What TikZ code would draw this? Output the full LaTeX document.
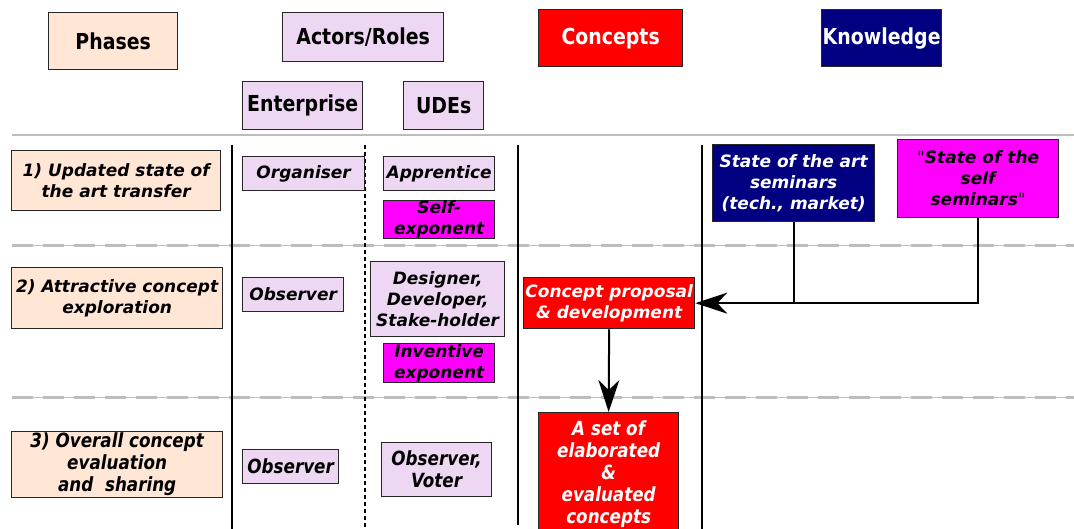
\documentclass[tikz,border=0pt]{standalone}
\usepackage{fontspec}
\setmainfont{DejaVu Sans}
\newfontfamily\condfont{DejaVu Sans}[FakeStretch=0.86]
\newfontfamily\quotefont{DejaVu Sans}[Ligatures=ResetAll]
\usepackage{xcolor}
\usetikzlibrary{arrows.meta}
\definecolor{peach}{HTML}{FFE6D5}
\definecolor{lilac}{HTML}{EDD7F2}
\definecolor{navyblue}{HTML}{000080}
\definecolor{pinkmag}{HTML}{FF00FF}
\definecolor{rulegray}{HTML}{BDBDBD}
\newcommand{\dq}{{\quotefont\upshape\mdseries"}}

\begin{document}
\begin{tikzpicture}[
  x=1pt, y=-1pt,
  box/.style={draw=black!85, line width=1.3pt, align=center, inner sep=0pt, anchor=north west,
              font=\fontsize{17}{21}\selectfont\bfseries\itshape},
  cbox/.style={box, font=\condfont\fontsize{19.5}{22}\selectfont\bfseries\itshape},
  head/.style={box, font=\condfont\fontsize{22}{26}\selectfont\bfseries},
  phase/.style={fill=peach},
  role/.style={fill=lilac},
  expo/.style={fill=pinkmag},
  concept/.style={fill=red, text=white},
  know/.style={fill=navyblue, text=white},
  lane/.style={line width=2pt, draw=black},
  sep/.style={line width=1pt, draw=rulegray},
  ar/.style={-{Stealth[length=32pt, width=21pt, inset=10pt]}, line width=2pt, draw=black}
]
  \useasboundingbox (0,0) rectangle (1074,529);

  \node[head, phase, minimum width=129pt, minimum height=57pt] (hphases) at (48,12) {Phases};
  \node[head, role, minimum width=161pt, minimum height=49pt] (hactors) at (282,12) {Actors/Roles};
  \node[head, concept, minimum width=144pt, minimum height=57pt] (hconcepts) at (538,9) {Concepts};
  \node[head, know, minimum width=120pt, minimum height=57pt] (hknow) at (821,9) {Knowledge};
  \node[head, role, minimum width=120pt, minimum height=48pt] (henter) at (242,81) {Enterprise};
  \node[head, role, minimum width=80pt, minimum height=48pt] (hudes) at (403,81) {UDEs};

  \draw[sep, line width=2.5pt] (12,135) -- (1074,135);
  \draw[sep] (12,246) -- (1074,246);
  \draw[sep, line width=3pt, dash pattern=on 21pt off 10pt] (12,246) -- (1074,246);
  \draw[sep] (12,397) -- (1074,397);
  \draw[sep, line width=3pt, dash pattern=on 21pt off 10pt] (12,397) -- (1074,397);

  \draw[lane] (232,145) -- (232,529);
  \draw[lane, line width=1.6pt, dash pattern=on 4pt off 3pt] (365,145) -- (365,529);
  \draw[lane] (518,145) -- (518,525);
  \draw[lane] (702,145) -- (702,529);

  \node[box, phase, minimum width=209pt, minimum height=60pt] (ph1) at (11,150)
        {1) Updated state of\\the art transfer};
  \node[box, role, minimum width=122pt, minimum height=34pt] (org) at (242,156) {Organiser};
  \node[box, role, minimum width=111pt, minimum height=34pt] (appr) at (383,156) {Apprentice};
  \node[box, expo, minimum width=111pt, minimum height=38pt] (selfexp) at (383,200)
        {Self-\\exponent};
  \node[box, know, minimum width=162pt, minimum height=77pt] (sota) at (712,144)
        {State of the art\\seminars\\(tech., market)};
  \node[box, expo, minimum width=161pt, minimum height=78pt] (sots) at (897,139)
        {\dq State of the\\self\\seminars\dq};

  \node[box, phase, minimum width=211pt, minimum height=61pt] (ph2) at (11,267)
        {2) Attractive concept\\exploration};
  \node[box, role, minimum width=101pt, minimum height=34pt] (obs2) at (242,277) {Observer};
  \node[box, role, minimum width=134pt, minimum height=75pt] (design) at (370,261)
        {Designer,\\Developer,\\Stake-holder};
  \node[box, expo, minimum width=111pt, minimum height=39pt] (invexp) at (383,343)
        {Inventive\\exponent};
  \node[box, concept, minimum width=171pt, minimum height=51pt] (prop) at (523,277)
        {Concept proposal\\\& development};

  \node[cbox, phase, minimum width=211pt, minimum height=66pt] (ph3) at (11,431)
        {3) Overall concept\\evaluation\\and\ \ sharing};
  \node[cbox, role, minimum width=96pt, minimum height=34pt] (obs3) at (242,449) {Observer};
  \node[cbox, role, minimum width=110pt, minimum height=54pt] (voter) at (381,442)
        {Observer,\\Voter};
  \node[cbox, concept, minimum width=140pt, minimum height=122pt] (set) at (538,412)
        {A set of\\elaborated\\\&\\evaluated\\concepts};

  \draw[line width=2pt] (sota.south) -- (sota.south |- prop.east);
  \draw[ar] (sots.south) |- (prop.east);
  \draw[ar] (prop.south) -- (set.north);
\end{tikzpicture}
\end{document}
